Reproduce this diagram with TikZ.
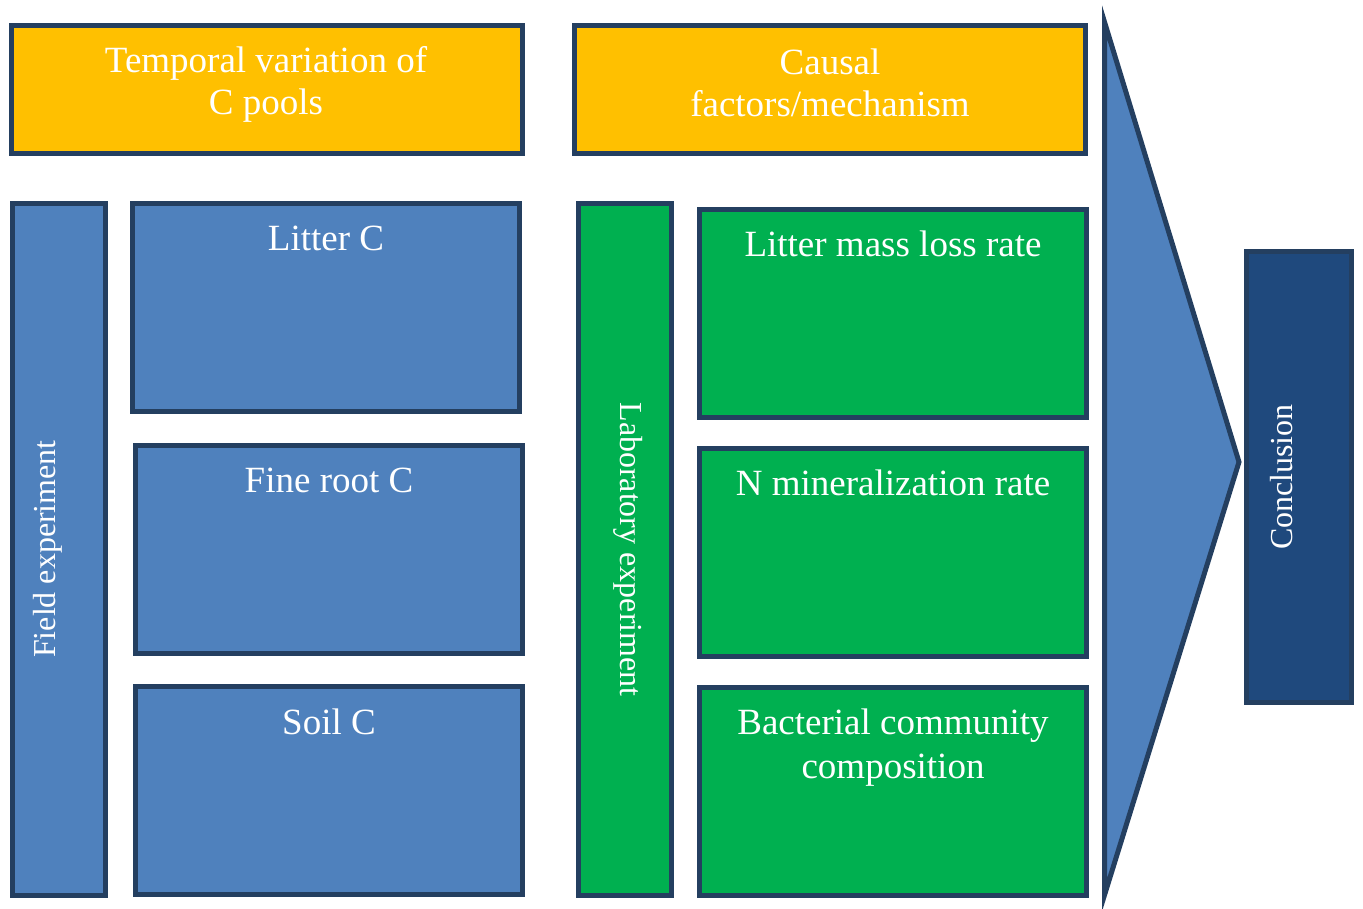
\documentclass[tikz,border=0pt]{standalone}
\usepackage{fontspec}
\setmainfont{Liberation Serif}
\usetikzlibrary{positioning}

\definecolor{gold}{HTML}{FFC000}
\definecolor{poolblue}{HTML}{4F81BD}
\definecolor{labgreen}{HTML}{00B050}
\definecolor{edge}{HTML}{243F60}
\definecolor{navy}{HTML}{1F497D}

\begin{document}
\begin{tikzpicture}[x=1pt, y=-1pt, line width=5pt,
		every node/.style={font=\fontsize{37pt}{44pt}\selectfont, text=white},
		box/.style={draw=edge, inner sep=0pt, minimum width=387pt, minimum height=208pt},
		head/.style={box, fill=gold, minimum width=511pt, minimum height=128pt},
		pool/.style={box, fill=poolblue},
		lab/.style={box, fill=labgreen},
		bar/.style={box, minimum width=93pt, minimum height=692pt},
		title/.style={inner sep=0pt, align=center},
		side/.style={title, font=\fontsize{32pt}{38pt}\selectfont, anchor=north}]
		\useasboundingbox (0,0) rectangle (1363,908);
		
		%Headers over the two columns
		\node[head] (temporal) at (267,89.5) {};
		\node[head] (causal) [right=47pt of temporal] {};
		
		%Field experiment column
		\node[bar, fill=poolblue] (field) at (58.5,549) {};
		\node[pool] (litter) at (326,307) {};
		\node[pool] (fineroot) [below=29pt of litter, xshift=3pt] {};
		\node[pool] (soil) [below=28pt of fineroot] {};
		
		%Laboratory experiment column
		\node[bar, fill=labgreen] (lab) at (624.5,549.5) {};
		\node[lab] (massloss) at (893,313.5) {};
		\node[lab] (nmin) [below=26pt of massloss] {};
		\node[lab] (bact) [below=26pt of nmin] {};
		
		%Big arrow and conclusion
		\coordinate (top) at (1104.5,22);
		\coordinate (tip) at (1239,462);
		\coordinate (bottom) at (1104.5,895);
		\draw[draw=edge, fill=poolblue, line join=miter] (top) -- (tip) -- (bottom) -- cycle;
		\node[box, fill=navy, minimum width=105pt, minimum height=451pt] (conc) at (1299,477) {};
		
		%Titles
		\node[title, font=\fontsize{37pt}{42pt}\selectfont] (h1) [below=21pt of temporal.north, xshift=-1pt] {Temporal variation of\\C pools};
		\node[title, font=\fontsize{37pt}{42pt}\selectfont] (h2) [below=23pt of causal.north] {Causal\\factors/mechanism};
		\node[title] (t1) [below=23pt of litter.north] {Litter C};
		\node[title] (t2) [below=23pt of fineroot.north] {Fine root C};
		\node[title] (t3) [below=23pt of soil.north] {Soil C};
		\node[title] (t4) [below=21pt of massloss.north] {Litter mass loss rate};
		\node[title] (t5) [below=21pt of nmin.north] {N mineralization rate};
		\node[title] (t6) [below=21pt of bact.north] {Bacterial community\\composition};
		\node[side, rotate=90] (t7) at ([xshift=21pt]field.west) {Field experiment};
		\node[side, rotate=-90] (t8) at ([xshift=-28pt]lab.east) {Laboratory experiment};
		\node[side, rotate=90] (t9) at ([xshift=24pt]conc.west) {Conclusion};
	\end{tikzpicture}
\end{document}
